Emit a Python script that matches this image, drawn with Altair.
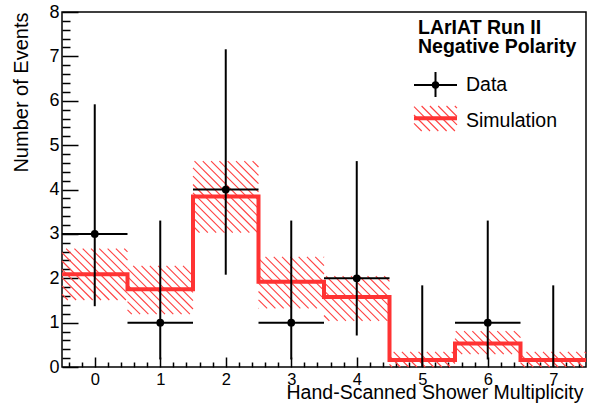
import altair as alt
import pandas as pd

# ---------------- data ----------------
bins = [0, 1, 2, 3, 4, 5, 6, 7]
data_counts = [3, 1, 4, 1, 2, 0, 1, 0]
data_err_lo = [1.37, 0.17, 2.08, 0.17, 0.71, 0.0, 0.17, 0.0]
data_err_hi = [5.92, 3.30, 7.16, 3.30, 4.64, 1.84, 3.30, 1.84]
sim_values = [2.09, 1.75, 3.84, 1.92, 1.58, 0.16, 0.53, 0.16]
sim_band_lo = [1.51, 1.19, 3.03, 1.32, 1.04, 0.0, 0.29, 0.0]
sim_band_hi = [2.67, 2.28, 4.64, 2.48, 2.05, 0.34, 0.81, 0.34]

x_ticks = [0, 1, 2, 3, 4, 5, 6, 7]
y_ticks = [0, 1, 2, 3, 4, 5, 6, 7, 8]
x_title = "Hand-Scanned Shower Multiplicity"
y_title = "Number of Events"
header_lines = ["LArIAT Run II", "Negative Polarity"]
legend_labels = ["Data", "Simulation"]

# ---------------- styling ----------------
W, H = 524, 355
X_DOM = [-0.5, 7.5]
Y_DOM = [0, 8]
RED = "#ff3333"
HATCH = "#ff4040"
FONT = "Liberation Sans"
PERIOD = 8.3  # hatch spacing in px

x_minor = [round(-0.4 + 0.2 * i, 2) for i in range(40)]
x_minor = [v for v in x_minor if abs(v - round(v)) > 1e-6]
y_minor = [round(0.2 * i, 2) for i in range(41)]
y_minor = [v for v in y_minor if abs(v - round(v)) > 1e-6]

KX = W / (X_DOM[1] - X_DOM[0])
KY = H / (Y_DOM[1] - Y_DOM[0])


def hatch_segments(x0, x1, y0, y1, period=PERIOD):
    """Clip the lines x - y = s (screen px, y down) to a box; return list of (xa, ya, xb, yb)."""
    segs = []
    k = int((x0 - y1) // period) - 1
    while k * period < x1 - y0 + period:
        s = k * period
        xa = max(x0, y0 + s)
        xb = min(x1, y1 + s)
        if xb - xa > 0.3:
            segs.append((xa, xa - s, xb, xb - s))
        k += 1
    return segs


# hatch segments for the band, built from the band arrays (converted back to data units)
hrows = []
for i, b in enumerate(bins):
    px0 = (b - 0.5 - X_DOM[0]) * KX
    px1 = (b + 0.5 - X_DOM[0]) * KX
    py0 = (Y_DOM[1] - sim_band_hi[i]) * KY
    py1 = (Y_DOM[1] - sim_band_lo[i]) * KY
    for xa, ya, xb, yb in hatch_segments(px0, px1, py0, py1):
        hrows.append({
            "hx": X_DOM[0] + xa / KX, "hy": Y_DOM[1] - ya / KY,
            "hx2": X_DOM[0] + xb / KX, "hy2": Y_DOM[1] - yb / KY,
        })
hatch_df = pd.DataFrame(hrows)

df = pd.DataFrame({
    "bin": bins,
    "count": data_counts,
    "err_lo": data_err_lo,
    "err_hi": data_err_hi,
    "sim": sim_values,
    "band_lo": sim_band_lo,
    "band_hi": sim_band_hi,
})
df["lo"] = df["bin"] - 0.5
df["hi"] = df["bin"] + 0.5

step_df = pd.DataFrame({
    "edge": [b - 0.5 for b in bins] + [bins[-1] + 0.5],
    "val": sim_values + [sim_values[-1]],
})

xs = alt.Scale(domain=X_DOM, nice=False, zero=False)
ys = alt.Scale(domain=Y_DOM, nice=False, zero=False)

axis_x_labels = alt.Axis(
    orient="bottom", values=x_ticks, ticks=False, tickSize=0, domain=False, grid=False,
    labelFontSize=16.5, labelFont=FONT, labelColor="black", labelPadding=4, labelFlush=False,
    title=x_title, titleFont=FONT, titleFontSize=19.5, titleFontWeight="normal", titleColor="black",
    titleAlign="right", titleAnchor="end", titleX=W - 3, titleY=31.5, titleBaseline="alphabetic",
)
axis_y_labels = alt.Axis(
    orient="left", values=y_ticks, ticks=False, tickSize=0, domain=False, grid=False,
    labelFontSize=18, labelFont=FONT, labelColor="black", labelPadding=3, labelFlush=False,
    labelOverlap=False,
    title=y_title, titleFont=FONT, titleFontSize=20, titleFontWeight="normal", titleColor="black",
    titleAlign="right", titleAnchor="end", titleAngle=270, titleX=-35, titleY=0,
    titleBaseline="alphabetic",
)


def tick_axis(orient, values, size, offset):
    return alt.Axis(orient=orient, values=values, tickSize=size, tickWidth=1.5, tickColor="black",
                    labels=False, domain=False, grid=False, title=None, offset=offset)


layers = []

# hatched simulation uncertainty band
layers.append(
    alt.Chart(hatch_df).mark_rule(color=HATCH, strokeWidth=1.1)
    .encode(
        x=alt.X("hx:Q", scale=xs, axis=axis_x_labels),
        y=alt.Y("hy:Q", scale=ys, axis=axis_y_labels),
        x2="hx2:Q",
        y2="hy2:Q",
    )
)

# simulation step line
layers.append(
    alt.Chart(step_df).mark_line(interpolate="step-after", color=RED, strokeWidth=4,
                                 strokeJoin="miter")
    .encode(
        x=alt.X("edge:Q", scale=xs, axis=tick_axis("top", x_ticks, 10, -H)),
        y=alt.Y("val:Q", scale=ys, axis=tick_axis("right", y_ticks, 16, -W)),
    )
)

# data vertical error bars
layers.append(
    alt.Chart(df).mark_rule(color="black", strokeWidth=2)
    .encode(
        x=alt.X("bin:Q", scale=xs, axis=tick_axis("top", x_minor, 5, -H)),
        y=alt.Y("err_lo:Q", scale=ys, axis=tick_axis("right", y_minor, 8, -W)),
        y2="err_hi:Q",
    )
)

# data horizontal bars (bin width)
layers.append(
    alt.Chart(df).transform_filter(alt.datum.count > 0).mark_rule(color="black", strokeWidth=2)
    .encode(x=alt.X("lo:Q", scale=xs, axis=None), x2="hi:Q",
            y=alt.Y("count:Q", scale=ys, axis=None))
)

# data points
layers.append(
    alt.Chart(df).transform_filter(alt.datum.count > 0)
    .mark_circle(color="black", size=60, opacity=1)
    .encode(x=alt.X("bin:Q", scale=xs, axis=None), y=alt.Y("count:Q", scale=ys, axis=None))
)

# ---------------- legend ----------------
one = pd.DataFrame({"k": [0]})
LX = 356  # legend left, plot coords

layers.append(
    alt.Chart(one).mark_text(text=header_lines[0], font=FONT, fontSize=19.5, fontWeight="bold",
                             align="left", baseline="alphabetic", color="black")
    .encode(x=alt.value(LX), y=alt.value(22.3))
)
layers.append(
    alt.Chart(one).mark_text(text=header_lines[1], font=FONT, fontSize=19.5, fontWeight="bold",
                             align="left", baseline="alphabetic", color="black")
    .encode(x=alt.value(LX), y=alt.value(41.3))
)
layers.append(
    alt.Chart(one).mark_text(text=legend_labels[0], font=FONT, fontSize=19.5,
                             align="left", baseline="alphabetic", color="black")
    .encode(x=alt.value(404), y=alt.value(79))
)
layers.append(
    alt.Chart(one).mark_text(text=legend_labels[1], font=FONT, fontSize=19.5,
                             align="left", baseline="alphabetic", color="black")
    .encode(x=alt.value(404), y=alt.value(114.7))
)
# Data symbol
layers.append(
    alt.Chart(one).mark_rule(color="black", strokeWidth=2)
    .encode(x=alt.value(352), x2=alt.value(395), y=alt.value(73))
)
layers.append(
    alt.Chart(one).mark_rule(color="black", strokeWidth=2)
    .encode(x=alt.value(373.5), y=alt.value(60), y2=alt.value(85))
)
layers.append(
    alt.Chart(one).mark_circle(color="black", size=55, opacity=1)
    .encode(x=alt.value(373.5), y=alt.value(73))
)
# Simulation symbol: hatched box (pixel coordinates, no scale) + red line
leg_hatch = pd.DataFrame(
    [{"px": a, "py": b2, "px2": c, "py2": d} for a, b2, c, d in hatch_segments(352, 395, 94, 119)]
)
layers.append(
    alt.Chart(leg_hatch).mark_rule(color=HATCH, strokeWidth=1.1)
    .encode(x=alt.X("px:Q", scale=None, axis=None), y=alt.Y("py:Q", scale=None, axis=None),
            x2="px2:Q", y2="py2:Q")
)
layers.append(
    alt.Chart(one).mark_rule(color=RED, strokeWidth=4)
    .encode(x=alt.value(352), x2=alt.value(395), y=alt.value(106.3))
)

chart = (
    alt.layer(*layers)
    .resolve_axis(x="independent", y="independent")
    .properties(width=W, height=H, autosize=alt.AutoSizeParams(type="none"),
                padding={"left": 62, "top": 12, "right": 7, "bottom": 40},
                background="white")
    .configure_view(stroke="black", strokeWidth=1.5)
    .configure_axis(grid=False)
)

chart.save("out.html", embed_options={"renderer": "svg", "actions": False})
